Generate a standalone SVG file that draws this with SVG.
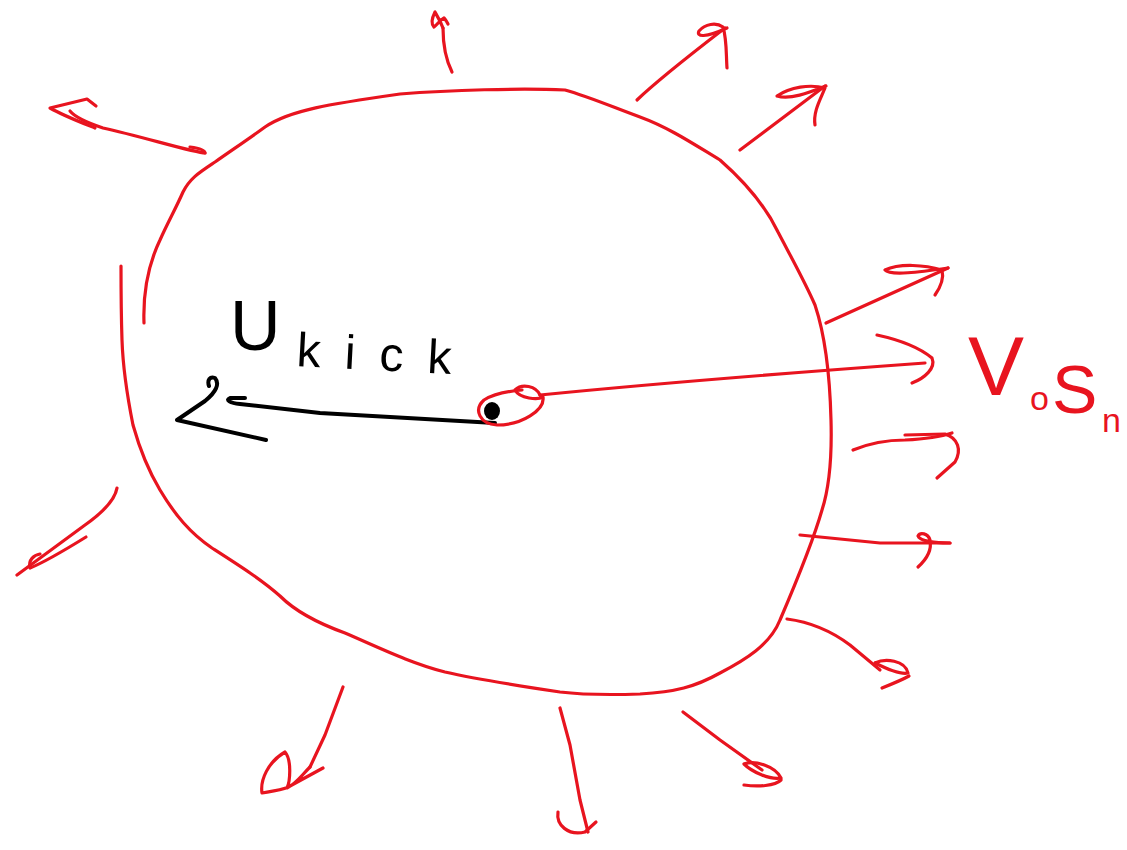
<svg xmlns="http://www.w3.org/2000/svg" width="1127" height="850" viewBox="0 0 1127 850">
<style>
.r{fill:none;stroke:#e8141f;stroke-width:3.2;stroke-linecap:round;stroke-linejoin:round}
.k{fill:none;stroke:#000;stroke-width:4;stroke-linecap:round;stroke-linejoin:round}
.tk{font-family:"Liberation Sans",Arial,sans-serif;fill:#000}
.tr{font-family:"Liberation Sans",Arial,sans-serif;fill:#e8141f}
</style>
<rect width="1127" height="850" fill="#fff"/>
<g id="blob">
<path class="r" d="M144,323 C143,295 148,265 160,240 C168,222 176,208 183,192 C190,178 200,172 215,162 C235,148 250,138 265,127 C290,110 330,104 400,94 C450,90 520,88 565,90 C590,97 615,108 640,117 C670,128 695,145 720,160 C745,182 765,205 778,232 C790,255 805,282 815,305 C825,335 830,380 831,420 C832,455 830,485 822,510 C812,545 795,585 780,620 C770,645 745,660 720,673 C695,687 675,692 640,694 C610,695 585,695 560,692 C520,686 480,680 445,672 C410,663 380,648 345,633 C320,624 296,612 280,596 C262,580 240,566 212,548 C190,533 175,515 160,490 C148,470 140,450 133,425 C128,400 123,370 122,340 C121,310 121,285 121,266"/>
</g>
<g id="connectors">
<g id="arrow-top">
<path class="r" d="M452,72 C446,60 443,45 443,28"/>
<path class="r" d="M443,28 C440,20 436,14 435,12 C432,18 431,24 434,27 C438,24 440,20 444,18 C446,20 447,22 448,24"/>
</g>
<g id="arrow-topleft">
<path class="r" d="M205,153 C195,153 140,136 103,128 C85,122 74,116 70,111"/>
<path class="r" d="M96,106 L87,99 L50,108 C62,115 80,122 95,128"/>
<path class="r" d="M190,147 C198,148 205,150 205,153"/>
</g>
<g id="arrow-ne1">
<path class="r" d="M637,100 C660,78 690,55 725,28"/>
<path class="r" d="M727,68 C726,55 727,40 723,27 C716,22 705,24 699,31 C696,37 705,38 727,28"/>
</g>
<g id="arrow-ne2">
<path class="r" d="M740,150 L825,86"/>
<path class="r" d="M815,125 C813,112 820,100 825,88 C810,84 790,87 777,96 C790,100 808,93 826,86"/>
</g>
<g id="arrow-e1">
<path class="r" d="M826,323 L948,268"/>
<path class="r" d="M935,295 C942,285 944,278 942,270 C925,265 900,263 885,270 C890,276 920,272 948,268"/>
</g>
<g id="arrow-vosn">
<path class="r" d="M540,395 C640,385 760,375 925,363"/>
<path class="r" d="M877,335 C900,340 920,348 932,358 C936,368 925,378 912,383"/>
</g>
<g id="arrow-e2">
<path class="r" d="M853,450 C870,443 885,440 905,440 C925,439 940,437 952,433"/>
<path class="r" d="M905,435 L945,434 C958,438 962,450 955,462 L937,478"/>
</g>
<g id="arrow-e3">
<path class="r" d="M800,535 L880,543 L950,543"/>
<path class="r" d="M918,567 C928,558 932,550 930,540 C928,533 920,532 918,536 C920,541 935,543 950,543"/>
</g>
<g id="arrow-se1">
<path class="r" d="M787,619 C810,622 830,630 850,645 L880,670"/>
<path class="r" d="M875,663 C885,658 905,660 908,673 C900,675 885,668 875,663"/>
<path class="r" d="M882,688 C892,684 902,680 909,676"/>
</g>
<g id="arrow-se2">
<path class="r" d="M683,712 L720,740 L762,770"/>
<path class="r" d="M744,764 C755,760 775,766 781,778 C770,780 752,772 744,764"/>
<path class="r" d="M744,785 C758,787 775,786 781,780"/>
</g>
<g id="arrow-s">
<path class="r" d="M560,708 L570,745 L580,800 L588,832"/>
<path class="r" d="M558,812 C556,825 568,836 585,832 L596,822"/>
</g>
<g id="arrow-sw1">
<path class="r" d="M343,687 L325,735 L310,767"/>
<path class="r" d="M323,768 L290,786 C285,790 276,790 262,793 C260,780 268,762 285,752 C292,760 290,782 287,788 C296,784 302,775 310,767"/>
</g>
<g id="arrow-sw2">
<path class="r" d="M117,488 C115,500 102,513 85,525 L17,575"/>
<path class="r" d="M86,537 C65,550 45,562 30,568 C28,560 34,555 40,554"/>
</g>
<g id="vkick-arrow">
<path class="k" d="M495,423 L320,413 L240,404 C230,403 225,400 230,398 L245,398"/>
<path class="k" d="M266,440 L177,420 L205,401 C216,392 220,384 215,378 C210,376 207,380 209,386"/>
</g>
</g>
<g id="center">
<ellipse cx="492" cy="411" rx="8" ry="9" fill="#000"/>
<path class="r" d="M540,395 C536,386 522,383 515,390 C520,399 538,400 543,397 C545,410 522,425 497,425 C480,424 473,410 484,400 C495,393 510,391 522,390"/>
</g>
<g id="label-vkick">
<text class="tk" x="230" y="350" font-size="70">U</text>
<text class="tk" x="296" y="366" font-size="48" textLength="155" lengthAdjust="spacing" transform="rotate(3 296 366)">kick</text>
</g>
<g id="label-vosn">
<text class="tr" x="968" y="395" font-size="84">V</text>
<text class="tr" x="1030" y="410" font-size="34">o</text>
<text class="tr" x="1052" y="413" font-size="68">S</text>
<text class="tr" x="1102" y="432" font-size="34">n</text>
</g>
</svg>
